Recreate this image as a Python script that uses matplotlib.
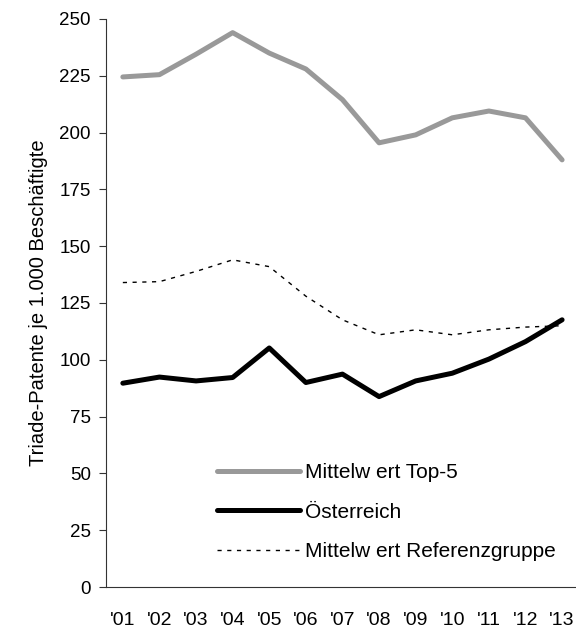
import matplotlib.pyplot as plt

plt.rcParams['font.family'] = ['Liberation Sans', 'DejaVu Sans']

# Data
years = ["'01", "'02", "'03", "'04", "'05", "'06", "'07", "'08", "'09", "'10", "'11", "'12", "'13"]
top5 = [224.5, 225.5, 234.5, 244, 235, 228, 214.5, 195.5, 199, 206.5, 209.5, 206.5, 188]
oesterreich = [89.7, 92.4, 90.7, 92.2, 105.2, 90, 93.7, 83.8, 90.7, 94.1, 100.3, 108, 117.6]
referenz = [134, 134.4, 138.9, 144, 141, 128, 117.6, 111, 113.2, 111, 113.2, 114.4, 115]

x = range(len(years))

fig = plt.figure(figsize=(5.76, 6.29), dpi=100)
ax = fig.add_axes([106 / 576, 42 / 629, 470 / 576, 568 / 629])

ax.plot(x, top5, color='#999999', linewidth=3.6, solid_capstyle='round', label='Mittelw ert Top-5')
ax.plot(x, oesterreich, color='black', linewidth=3.6, solid_capstyle='round', label='Österreich')
ax.plot(x, referenz, color='black', linewidth=1.0, dashes=(3, 4), label='Mittelw ert Referenzgruppe')

ax.set_xlim(-0.46, 12.38)
ax.set_ylim(0, 250)
ax.set_yticks(range(0, 251, 25))
ax.set_xticks(list(x))
ax.set_xticklabels(years)

ax.spines['top'].set_visible(False)
ax.spines['right'].set_visible(False)
ax.spines['left'].set_color('#333333')
ax.spines['bottom'].set_color('#333333')
ax.tick_params(axis='y', length=5, color='#333333', labelsize=13.5, pad=6)
ax.tick_params(axis='x', length=0, labelsize=14, pad=18)

ax.set_ylabel('Triade-Patente je 1.000 Beschäftigte', fontsize=14.5, labelpad=8)

ax.legend(loc='upper left', bbox_to_anchor=(217 / 576, 1 - 463 / 629),
          bbox_transform=fig.transFigure, frameon=False, fontsize=15,
          handlelength=4.0, handletextpad=0.24, labelspacing=0.99,
          borderpad=0, borderaxespad=0)

fig.savefig('out.png', dpi=100)
